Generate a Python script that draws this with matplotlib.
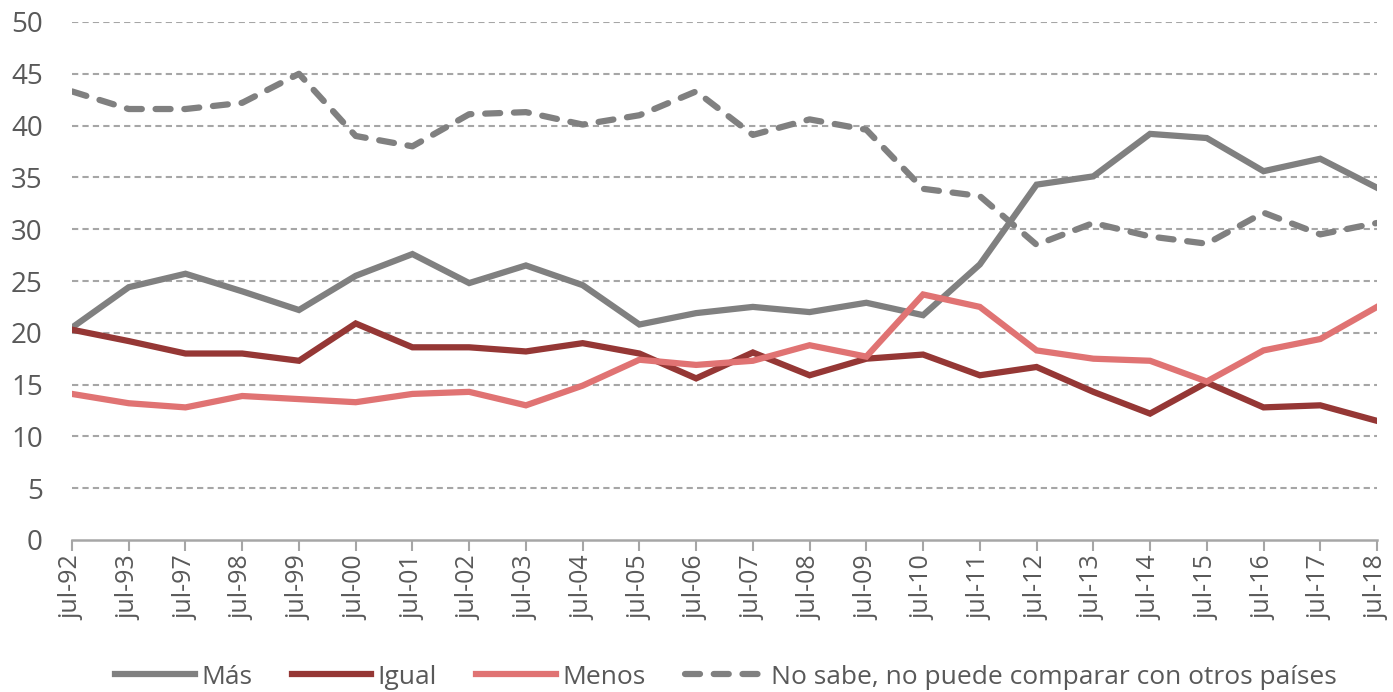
import matplotlib
matplotlib.use("Agg")
import matplotlib.pyplot as plt

categories = ["jul-92", "jul-93", "jul-97", "jul-98", "jul-99", "jul-00", "jul-01", "jul-02",
              "jul-03", "jul-04", "jul-05", "jul-06", "jul-07", "jul-08", "jul-09", "jul-10",
              "jul-11", "jul-12", "jul-13", "jul-14", "jul-15", "jul-16", "jul-17", "jul-18"]
mas = [20.5, 24.4, 25.7, 24.0, 22.2, 25.5, 27.6, 24.8, 26.5, 24.6, 20.8, 21.9,
       22.5, 22.0, 22.9, 21.7, 26.6, 34.3, 35.1, 39.2, 38.8, 35.6, 36.8, 34.0]
igual = [20.3, 19.2, 18.0, 18.0, 17.3, 20.9, 18.6, 18.6, 18.2, 19.0, 18.0, 15.6,
         18.1, 15.9, 17.5, 17.9, 15.9, 16.7, 14.3, 12.2, 15.2, 12.8, 13.0, 11.5]
menos = [14.1, 13.2, 12.8, 13.9, 13.6, 13.3, 14.1, 14.3, 13.0, 14.9, 17.4, 16.9,
         17.3, 18.8, 17.7, 23.7, 22.5, 18.3, 17.5, 17.3, 15.3, 18.3, 19.4, 22.5]
no_sabe = [43.3, 41.6, 41.6, 42.2, 45.0, 39.0, 38.0, 41.1, 41.3, 40.1, 41.0, 43.3,
           39.1, 40.6, 39.6, 33.9, 33.2, 28.5, 30.6, 29.3, 28.6, 31.6, 29.5, 30.6]
series_labels = ["Más", "Igual", "Menos", "No sabe, no puede comparar con otros países"]
y_ticks = [0, 5, 10, 15, 20, 25, 30, 35, 40, 45, 50]

plt.rcParams['font.family'] = ["Open Sans", 'DejaVu Sans']

txt = "#595959"
fig = plt.figure(figsize=(13.93, 6.92), dpi=100)
ax = fig.add_axes([72/1393, 1 - 540/692, (1377-72)/1393, (540-22)/692])

x = list(range(len(categories)))
lw = 4.5
ax.plot(x, mas, color="#808080", lw=lw, label=series_labels[0], solid_joinstyle="miter", zorder=3)
ax.plot(x, igual, color="#953735", lw=lw, label=series_labels[1], solid_joinstyle="miter", zorder=3)
ax.plot(x, menos, color="#E07373", lw=lw, label=series_labels[2], solid_joinstyle="miter", zorder=3)
ax.plot(x, no_sabe, color="#808080", lw=lw, label=series_labels[3], linestyle=(0, (2.4, 2.2)),
        dash_capstyle="round", zorder=3)

ax.set_xlim(0, len(categories) - 1)
ax.set_ylim(0, 50)
ax.set_yticks(y_ticks)
ax.set_yticklabels([str(v) for v in y_ticks], fontsize=20, color=txt)
ax.set_xticks(x)
ax.set_xticklabels(categories, rotation=90, fontsize=18, color=txt)
ax.tick_params(axis="y", length=0, pad=21)
ax.tick_params(axis="x", length=8, width=1.5, color="#A6A6A6", direction="out", pad=3)

for v in y_ticks[1:]:
    ax.axhline(v, color="#A6A6A6", lw=1.5, linestyle=(0, (3, 2)), zorder=1)

for s in ["top", "right", "left"]:
    ax.spines[s].set_visible(False)
ax.spines["bottom"].set_color("#A6A6A6")
ax.spines["bottom"].set_linewidth(1.8)

leg = fig.legend(loc="center", bbox_to_anchor=(726/1393, 1 - 677/692), ncol=4, frameon=False,
                 fontsize=19, handlelength=3.0, columnspacing=1.5, handletextpad=0.25)
for t in leg.get_texts():
    t.set_color(txt)

fig.savefig("out.png", dpi=100)
